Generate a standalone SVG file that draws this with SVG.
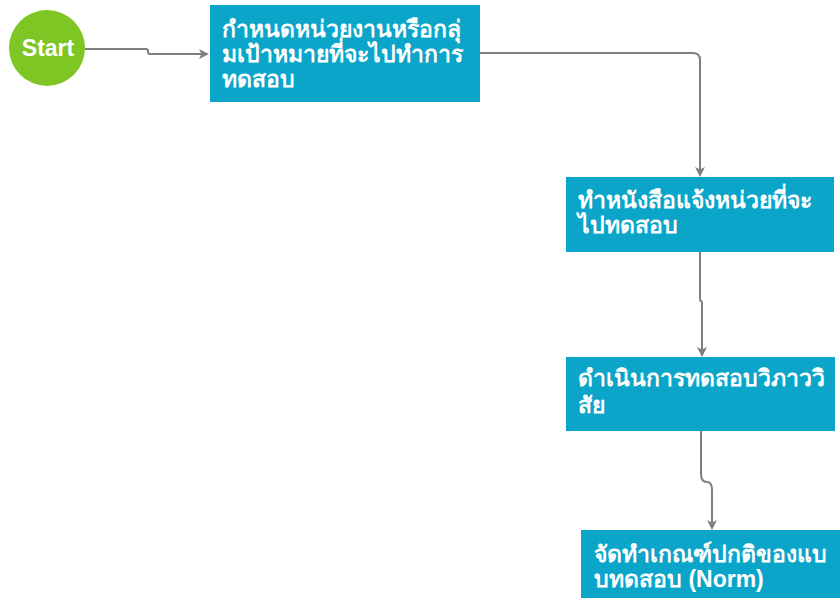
<svg xmlns="http://www.w3.org/2000/svg" width="840" height="598" viewBox="0 0 840 598">
<style>
.box{fill:#0BA5C9;}
.t{fill:#ffffff;font-family:"Liberation Sans","Noto Sans",sans-serif;font-weight:bold;font-size:23px;}
.c{fill:none;stroke:#7f7f7f;stroke-width:2;marker-end:url(#ah);}
</style>
<defs>
<marker id="ah" markerWidth="10" markerHeight="10" refX="8" refY="5" orient="auto" markerUnits="userSpaceOnUse">
<path d="M0,0 L10,5 L0,10 L2.5,5 Z" fill="#7f7f7f"/>
</marker>
</defs>
<rect width="840" height="598" fill="#ffffff"/>
<g id="connectors">
<path class="c" d="M85,49 H146 Q148,49 148,51 L148,52 Q148,54 150,54 H207"/>
<path class="c" d="M480,53 H693 Q700,53 700,60 V175"/>
<path class="c" d="M700,252 V299 Q700,301 701,301 Q702,301 702,303 V355"/>
<path class="c" d="M701,431 V474 Q701,482 707,482 Q712,482 712,490 V528"/>
</g>
<g id="start">
<circle cx="47" cy="48" r="38" fill="#7DC623"/>
<text class="t" x="48" y="56" text-anchor="middle" font-size="22">Start</text>
</g>
<g id="n1">
<rect class="box" x="210" y="5" width="270" height="97"/>
<text class="t"><tspan x="222" y="37">กำหนดหน่วยงานหรือกลุ่</tspan><tspan x="222" y="62">มเป้าหมายที่จะไปทำการ</tspan><tspan x="222" y="87">ทดสอบ</tspan></text>
</g>
<g id="n2">
<rect class="box" x="566" y="177" width="268" height="75"/>
<text class="t"><tspan x="578" y="208">ทำหนังสือแจ้งหน่วยที่จะ</tspan><tspan x="578" y="233">ไปทดสอบ</tspan></text>
</g>
<g id="n3">
<rect class="box" x="566" y="357" width="269" height="74"/>
<text class="t"><tspan x="578" y="386">ดำเนินการทดสอบวิภาววิ</tspan><tspan x="578" y="413">สัย</tspan></text>
</g>
<g id="n4">
<rect class="box" x="581" y="530" width="270" height="80"/>
<text class="t"><tspan x="594" y="562">จัดทำเกณฑ์ปกติของแบ</tspan><tspan x="594" y="587">บทดสอบ (Norm)</tspan></text>
</g>
</svg>
